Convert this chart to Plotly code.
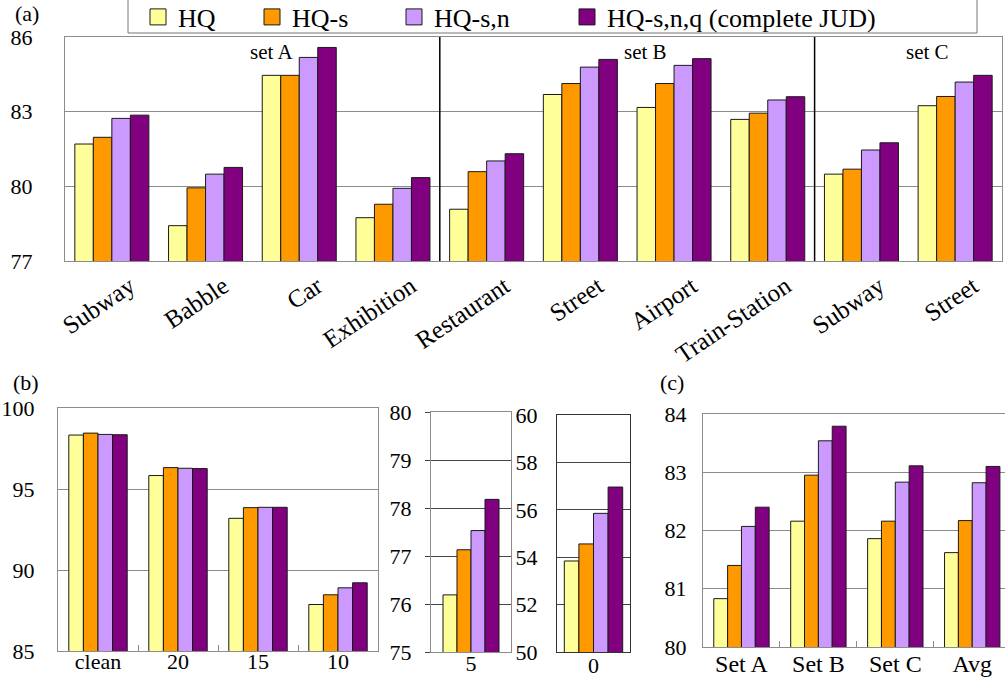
import plotly.graph_objects as go

W, H = 1005, 680

# ---- series shared by every panel ----
series = ["HQ", "HQ-s", "HQ-s,n", "HQ-s,n,q (complete JUD)"]
colors = ["#FFFF99", "#FF9900", "#CC99FF", "#800080"]

# ---- (a) accuracy per noise type ----
noise_types = ["Subway", "Babble", "Car", "Exhibition", "Restaurant",
               "Street", "Airport", "Train-Station", "Subway", "Street"]
noise_sets = ["set A"] * 4 + ["set B"] * 4 + ["set C"] * 2
a_hq = [81.70, 78.42, 84.46, 78.74, 79.08, 83.69, 83.17, 82.69, 80.49, 83.24]
a_s = [81.97, 79.94, 84.46, 79.28, 80.59, 84.13, 84.13, 82.94, 80.69, 83.61]
a_sn = [82.73, 80.49, 85.18, 79.92, 81.02, 84.79, 84.86, 83.47, 81.46, 84.19]
a_snq = [82.86, 80.76, 85.58, 80.35, 81.31, 85.10, 85.13, 83.60, 81.75, 84.46]

# ---- (b) accuracy per SNR ----
snr_high = ["clean", "20", "15", "10"]
b_hq = [98.33, 95.83, 93.19, 87.87]
b_s = [98.45, 96.32, 93.85, 88.47]
b_sn = [98.37, 96.28, 93.87, 88.90]
b_snq = [98.35, 96.26, 93.87, 89.21]

snr_5 = ["5"]
b5_hq, b5_s, b5_sn, b5_snq = [76.19], [77.13], [77.53], [78.18]

snr_0 = ["0"]
b0_hq, b0_s, b0_sn, b0_snq = [53.84], [54.56], [55.85], [56.96]

# ---- (c) accuracy per test set ----
test_sets = ["Set A", "Set B", "Set C", "Avg"]
c_hq = [80.83, 82.16, 81.86, 81.62]
c_s = [81.40, 82.95, 82.16, 82.17]
c_sn = [82.07, 83.54, 82.83, 82.82]
c_snq = [82.40, 83.79, 83.11, 83.10]

SERIF = "Liberation Serif"
GRID = "#8c8c8c"


def hx(px):
    return px / W


def vy(py):
    return 1 - py / H


fig = go.Figure()


def add_bars(n, cats, groups, frac):
    """Four grouped bars per category; frac is the share of a slot the group fills."""
    xa = "x" if n == 1 else f"x{n}"
    ya = "y" if n == 1 else f"y{n}"
    bw = frac / len(groups)
    for i, vals in enumerate(groups):
        fig.add_trace(go.Bar(
            x=cats, y=vals, name=series[i], showlegend=False,
            width=bw, offset=-frac / 2 + i * bw,
            marker=dict(color=colors[i], line=dict(color="#1a1a1a", width=1)),
            xaxis=xa, yaxis=ya,
        ))


idx_a = list(range(len(noise_types)))
add_bars(1, idx_a, [a_hq, a_s, a_sn, a_snq], 0.79)
add_bars(2, snr_high, [b_hq, b_s, b_sn, b_snq], 0.73)
add_bars(3, snr_5, [b5_hq, b5_s, b5_sn, b5_snq], 0.70)
add_bars(4, snr_0, [b0_hq, b0_s, b0_sn, b0_snq], 0.80)
add_bars(5, test_sets, [c_hq, c_s, c_sn, c_snq], 0.72)

# legend entries, one small legend per series so they sit along the top box
legend_x = [138, 252, 394, 567]
for i, name in enumerate(series):
    fig.add_trace(go.Scatter(
        x=[None], y=[None], mode="markers", name=name,
        marker=dict(symbol="square", size=16, color=colors[i],
                    line=dict(color="#1a1a1a", width=1)),
        legend="legend" if i == 0 else f"legend{i + 1}",
        xaxis="x", yaxis="y",
    ))

tick_font = dict(family=SERIF, size=22, color="black")


def yaxis(dom, rng, dtick, standoff, linecolor=GRID, gridcolor=GRID, ticks=""):
    return dict(domain=[vy(dom[1]), vy(dom[0])], range=rng, dtick=dtick,
                tick0=rng[0], showgrid=True, gridcolor=gridcolor, gridwidth=1,
                showline=True, mirror=True, linecolor=linecolor, linewidth=1,
                zeroline=False, tickfont=tick_font, ticklabelstandoff=standoff,
                ticks=ticks, ticklen=5, tickcolor=gridcolor)


def xaxis(dom, rng, linecolor=GRID, boundary_ticks=False, fsize=22, standoff=0, **kw):
    d = dict(domain=[hx(dom[0]), hx(dom[1])], range=rng, showgrid=False,
             showline=True, mirror=True, linecolor=linecolor, linewidth=1,
             zeroline=False, tickfont=dict(family=SERIF, size=fsize, color="black"),
             ticklabelstandoff=standoff)
    if boundary_ticks:
        d.update(ticks="inside", tickson="boundaries", ticklen=6, tickcolor=GRID)
    d.update(kw)
    return d


layout = dict(
    width=W, height=H, margin=dict(l=0, r=0, t=0, b=0, autoexpand=False),
    paper_bgcolor="white", plot_bgcolor="white",
    barmode="overlay", showlegend=True,
    font=dict(family=SERIF, color="black"),
)

# (a)
layout["xaxis"] = xaxis((65, 1002), [-0.5, len(noise_types) - 0.5], fsize=25,
                        tickmode="array", tickvals=idx_a, ticktext=noise_types,
                        tickangle=-34, ticklabelshift=18, anchor="y")
layout["yaxis"] = yaxis((37, 261), [77, 86], 3, 27)
layout["yaxis"]["anchor"] = "x"

# (b)
layout["xaxis2"] = xaxis((58, 378), [-0.5, len(snr_high) - 0.5], standoff=-9,
                         boundary_ticks=True, type="category", anchor="y2")
layout["yaxis2"] = yaxis((408, 651), [85, 100], 5, 18)
layout["yaxis2"]["anchor"] = "x2"

layout["xaxis3"] = xaxis((431, 511), [-0.5, 0.5], standoff=-8,
                         type="category", anchor="y3")
layout["yaxis3"] = yaxis((412, 652), [75, 80], 1, 9, gridcolor="#444", ticks="outside")
layout["yaxis3"]["anchor"] = "x3"

layout["xaxis4"] = xaxis((557, 630), [-0.5, 0.5], linecolor="#333", standoff=-6,
                         type="category", anchor="y4")
layout["yaxis4"] = yaxis((415, 652), [50, 60], 2, 14, linecolor="#333", gridcolor="#444")
layout["yaxis4"]["anchor"] = "x4"

# (c)
layout["xaxis5"] = xaxis((703, 1005), [-0.5, 3.426], boundary_ticks=True, fsize=24,
                         standoff=-5, type="category", anchor="y5")
layout["yaxis5"] = yaxis((414, 647), [80, 84], 1, 11)
layout["yaxis5"]["anchor"] = "x5"

for i in range(len(series)):
    key = "legend" if i == 0 else f"legend{i + 1}"
    layout[key] = dict(x=hx(legend_x[i]), y=vy(17), xanchor="left", yanchor="middle",
                       orientation="h", bgcolor="rgba(0,0,0,0)", borderwidth=0,
                       font=dict(family=SERIF, size=26, color="black"))

fig.update_layout(**layout)

# legend frame
fig.add_shape(type="rect", xref="paper", yref="paper",
              x0=hx(128), x1=hx(977), y0=vy(33), y1=vy(-5),
              line=dict(color="#777", width=1), fillcolor="rgba(0,0,0,0)", layer="below")

# set dividers and set names in (a)
for k in range(1, len(noise_sets)):
    if noise_sets[k] != noise_sets[k - 1]:
        fig.add_shape(type="line", xref="x", yref="y domain", x0=k - 0.5, x1=k - 0.5,
                      y0=0, y1=1, line=dict(color="black", width=1.5))
for s in dict.fromkeys(noise_sets):
    members = [k for k, v in enumerate(noise_sets) if v == s]
    centre = (members[0] + members[-1]) / 2
    fig.add_annotation(x=centre + 0.2, y=0.935, xref="x", yref="y domain", text=s,
                       xanchor="center", yanchor="middle", showarrow=False,
                       font=dict(family=SERIF, size=21, color="black"))

# panel tags
for tag, px, py in [("(a)", 27, 13), ("(b)", 26, 382), ("(c)", 672, 382)]:
    fig.add_annotation(x=hx(px), y=vy(py), xref="paper", yref="paper", text=tag,
                       xanchor="center", yanchor="middle", showarrow=False,
                       font=dict(family=SERIF, size=22, color="black"))

fig.write_html("out.html")
